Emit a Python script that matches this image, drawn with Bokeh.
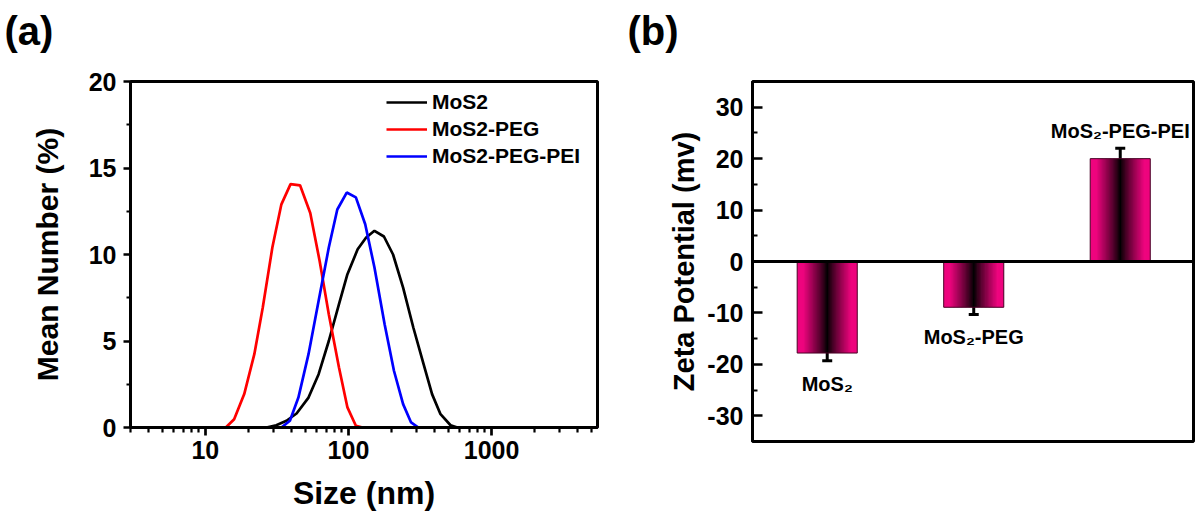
from bokeh.plotting import figure
from bokeh.layouts import row, column
from bokeh.models import (Range1d, FixedTicker, PrintfTickFormatter, Legend, LegendItem,
                          Title, Span, Whisker, TeeHead, ColumnDataSource)
from bokeh.core.properties import value
from bokeh.embed import file_html
from bokeh.resources import INLINE

FONT = "Liberation Sans"

# ---------------- (a) size distribution data ----------------
size_mos2 = [3, 26.7, 31.3, 36.9, 43.4, 52.6, 61.9, 72.9, 85.9, 98.4, 116, 133, 152,
             177, 205, 241, 284, 335, 384, 440, 517, 577, 5500]
mean_mos2 = [0, 0, 0.13, 0.39, 0.81, 1.73, 3.08, 5.0, 7.13, 8.86, 10.3, 10.98, 11.37,
             11.04, 10.0, 8.09, 5.78, 3.66, 1.93, 0.77, 0.13, 0, 0]

size_peg = [3, 13.9, 15.9, 18.7, 22.0, 25.2, 29.4, 34.0, 39.4, 45.9, 54.1, 63.0, 72.9,
            85.9, 98.4, 112.7, 125.6, 5500]
mean_peg = [0, 0, 0.48, 1.93, 4.24, 6.94, 10.4, 12.9, 14.07, 14.0, 12.4, 9.6, 6.55,
            3.47, 1.16, 0.1, 0, 0]

size_pei = [3, 34, 39.0, 44.7, 52.6, 61.9, 72.9, 83.6, 97.3, 112.7, 131, 152, 179,
            208, 241, 274, 308, 5500]
mean_pei = [0, 0, 0.39, 1.73, 4.24, 7.32, 10.4, 12.6, 13.58, 13.3, 11.75, 9.25, 5.97,
            3.28, 1.35, 0.29, 0, 0]

series_names = ["MoS2", "MoS2-PEG", "MoS2-PEG-PEI"]
x_ticks_a = [10, 100, 1000]
x_minor_a = [3, 4, 5, 6, 7, 8, 9, 20, 30, 40, 50, 60, 70, 80, 90,
             200, 300, 400, 500, 600, 700, 800, 900, 2000, 3000, 4000, 5000]
y_ticks_a = [0, 5, 10, 15, 20]
y_minor_a = [2.5, 7.5, 12.5, 17.5]

# ---------------- (b) zeta potential data ----------------
samples = ["MoS\u2082", "MoS\u2082-PEG", "MoS\u2082-PEG-PEI"]
zeta = [-17.8, -8.9, 20.0]
zeta_err = [1.5, 1.4, 2.0]
y_ticks_b = [-30, -20, -10, 0, 10, 20, 30]
y_minor_b = [-25, -15, -5, 5, 15, 25]


def style_axis(ax, label_size):
    ax.axis_line_width = 3
    ax.axis_line_color = "black"
    ax.major_tick_line_width = 2.7
    ax.minor_tick_line_width = 2.2
    ax.major_tick_line_color = "black"
    ax.minor_tick_line_color = "black"
    ax.major_label_text_font = FONT
    ax.major_label_text_font_style = "bold"
    ax.major_label_text_font_size = "25px"
    ax.major_label_text_color = "black"
    ax.axis_label_text_font = FONT
    ax.axis_label_text_font_style = "bold"
    ax.axis_label_text_font_size = label_size
    ax.axis_label_text_color = "black"


def panel_title(txt, off):
    return Title(text=txt, align="left", offset=off, standoff=9,
                 text_font=FONT, text_font_style="bold", text_font_size="40px",
                 text_color="black")


def spacer_title():
    # empty spacer between the panel letter and the plot frame
    return Title(text=" ", standoff=8, text_font=FONT, text_font_size="12px")


# ================= panel (a) =================
pa = figure(width=600, height=522, x_axis_type="log",
            x_range=Range1d(3, 5500), y_range=Range1d(0, 20),
            title=panel_title("(a)", -126),
            output_backend="svg", toolbar_location=None,
            min_border_left=130, min_border_right=3,
            min_border_top=81, min_border_bottom=95)
pa.add_layout(spacer_title(), "above")
pa.grid.visible = False
pa.outline_line_color = "black"
pa.outline_line_width = 3
pa.background_fill_color = "white"
pa.border_fill_color = "white"

r1 = pa.line(size_mos2, mean_mos2, line_color="black", line_width=2.7)
r2 = pa.line(size_peg, mean_peg, line_color="#ff0000", line_width=2.7)
r3 = pa.line(size_pei, mean_pei, line_color="#0000ff", line_width=2.7)

xa = pa.xaxis[0]
ya = pa.yaxis[0]
style_axis(xa, "32px")
style_axis(ya, "30px")
xa.ticker = FixedTicker(ticks=x_ticks_a, minor_ticks=x_minor_a)
xa.formatter = PrintfTickFormatter(format="%d")
xa.axis_label = "Size (nm)"
xa.major_tick_in = 0
xa.major_tick_out = 8
xa.minor_tick_in = 0
xa.minor_tick_out = 5
xa.major_label_standoff = 5
xa.axis_label_standoff = 13

ya.ticker = FixedTicker(ticks=y_ticks_a, minor_ticks=y_minor_a)
ya.formatter = PrintfTickFormatter(format="%d")
ya.axis_label = "Mean Number (%)"
ya.major_tick_in = 0
ya.major_tick_out = 7
ya.minor_tick_in = 0
ya.minor_tick_out = 4
ya.major_label_standoff = 7
ya.axis_label_standoff = 22

legend = Legend(items=[LegendItem(label=series_names[0], renderers=[r1]),
                       LegendItem(label=series_names[1], renderers=[r2]),
                       LegendItem(label=series_names[2], renderers=[r3])],
                location=(256, 259), orientation="vertical",
                glyph_width=41, glyph_height=24, label_height=24, spacing=3,
                padding=0, margin=0, label_standoff=5,
                border_line_color=None, background_fill_alpha=0,
                label_text_font=FONT, label_text_font_style="bold",
                label_text_font_size="21px", label_text_color="black")
pa.add_layout(legend)

# ================= panel (b) =================
pb = figure(width=600, height=522, x_range=Range1d(-0.01, 3.0), y_range=Range1d(-35, 35),
            title=panel_title("(b)", -125),
            output_backend="svg", toolbar_location=None, x_axis_location=None,
            min_border_left=152, min_border_right=7,
            min_border_top=81, min_border_bottom=81)
pb.add_layout(spacer_title(), "above")
pb.grid.visible = False
pb.outline_line_color = "black"
pb.outline_line_width = 3
pb.background_fill_color = "white"
pb.border_fill_color = "white"

pos = [i + 0.5 for i in range(len(samples))]
bar_w = 0.41
n_strips = 45
pink = (238, 4, 126)
lefts, rights, tops, bottoms, colors = [], [], [], [], []
for c, v in zip(pos, zeta):
    x0 = c - bar_w / 2
    dw = bar_w / n_strips
    for k in range(n_strips):
        l = x0 + k * dw
        r = min(x0 + bar_w, l + 1.6 * dw)
        mid = l + dw / 2
        t = min(1.0, abs(mid - c) / (bar_w / 2) * 1.25) ** 0.85
        col = "#%02x%02x%02x" % tuple(int(round(ch * t)) for ch in pink)
        lefts.append(l)
        rights.append(r)
        tops.append(max(v, 0))
        bottoms.append(min(v, 0))
        colors.append(col)
pb.quad(left=lefts, right=rights, top=tops, bottom=bottoms,
        fill_color=colors, line_color=None)
pb.quad(left=[c - bar_w / 2 for c in pos], right=[c + bar_w / 2 for c in pos],
        top=[max(v, 0) for v in zeta], bottom=[min(v, 0) for v in zeta],
        fill_color=None, line_color="#4a0026", line_width=1)

pb.add_layout(Span(location=0, dimension="width", line_color="black", line_width=3))

err_src = ColumnDataSource(dict(base=pos,
                                upper=[v + e for v, e in zip(zeta, zeta_err)],
                                lower=[v - e for v, e in zip(zeta, zeta_err)]))
pb.add_layout(Whisker(base="base", upper="upper", lower="lower", source=err_src,
                      line_color="black", line_width=3,
                      upper_head=TeeHead(size=10, line_width=3, line_color="black"),
                      lower_head=TeeHead(size=10, line_width=3, line_color="black")))

lab_src = ColumnDataSource(dict(
    x=pos,
    y=[v - e if v < 0 else v + e for v, e in zip(zeta, zeta_err)],
    off=[23 if v < 0 else -17 for v in zeta],
    text=samples))
pb.text(x="x", y="y", text="text", y_offset="off", source=lab_src,
        text_align="center", text_baseline="alphabetic",
        text_font=value(FONT), text_font_style="bold", text_font_size="20px",
        text_color="black")

yb = pb.yaxis[0]
style_axis(yb, "29px")
yb.ticker = FixedTicker(ticks=y_ticks_b, minor_ticks=y_minor_b)
yb.formatter = PrintfTickFormatter(format="%d")
yb.axis_label = "Zeta Potential (mv)"
yb.major_tick_in = 10
yb.major_tick_out = 0
yb.minor_tick_in = 5
yb.minor_tick_out = 0
yb.major_label_standoff = 9
yb.axis_label_standoff = 4

layout = row(column(pa), column(pb))
open("out.html", "w").write(file_html(layout, INLINE))
